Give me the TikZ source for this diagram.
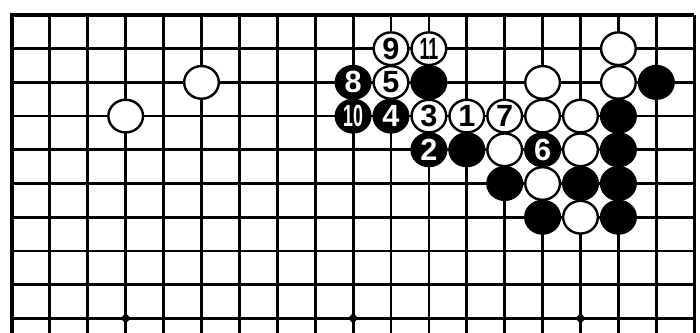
\documentclass[tikz,border=0pt]{standalone}
\usepackage{fontspec}
\usepackage{graphicx}
\setmainfont{Liberation Sans}
\usetikzlibrary{shapes.geometric}

\newcommand{\twodig}[1]{\scalebox{0.58}[1]{#1}}

\begin{document}
\begin{tikzpicture}[x=28.425pt, y=-25.275pt,
        grid/.style={line width=2.1pt},
        border/.style={line width=3.6pt},
        wst/.style={draw=black, line width=1.8pt, fill=white, ellipse, minimum width=26pt, minimum height=24.5pt, inner sep=0pt, font=\bfseries\fontsize{23}{23}\selectfont},
        bst/.style={wst, fill=black, text=white},
        hoshi/.style={diamond, fill=black, inner sep=0pt, minimum size=8pt}]
        \useasboundingbox (-0.3166,-0.445) rectangle (18.153,9.436);
        % grid
        \foreach \r in {1,...,9}
          \draw[grid] (0,\r) -- (18,\r);
        \foreach \c in {1,...,17}
          \draw[grid] (\c,0) -- (\c,9.436);
        \draw[grid] (18,0) -- (18,9.436);
        \draw[border] (0,9.436) -- (0,0) -- (18,0);
        % star points
        \foreach \c in {3,9,15}
          \node[hoshi] (h\c) at (\c,9) {};
        % stones already on the board
        \foreach \c/\r in {3/3, 5/2, 14/2, 16/1, 16/2, 14/3, 15/3, 13/4, 15/4, 14/5, 15/6}
          \node[wst] (w\c-\r) at (\c,\r) {};
        \foreach \c/\r in {11/2, 17/2, 16/3, 12/4, 16/4, 13/5, 15/5, 16/5, 14/6, 16/6}
          \node[bst] (b\c-\r) at (\c,\r) {};
        % numbered moves
        \node[wst] (m1) at (12,3) {1};
        \node[bst] (m2) at (11,4) {2};
        \node[wst] (m3) at (11,3) {3};
        \node[bst] (m4) at (10,3) {4};
        \node[wst] (m5) at (10,2) {5};
        \node[bst] (m6) at (14,4) {6};
        \node[wst] (m7) at (13,3) {7};
        \node[bst] (m8) at (9,2) {8};
        \node[wst] (m9) at (10,1) {9};
        \node[bst] (m10) at (9,3) {\twodig{10}};
        \node[wst] (m11) at (11,1) {\twodig{11}};
      \end{tikzpicture}
\end{document}
